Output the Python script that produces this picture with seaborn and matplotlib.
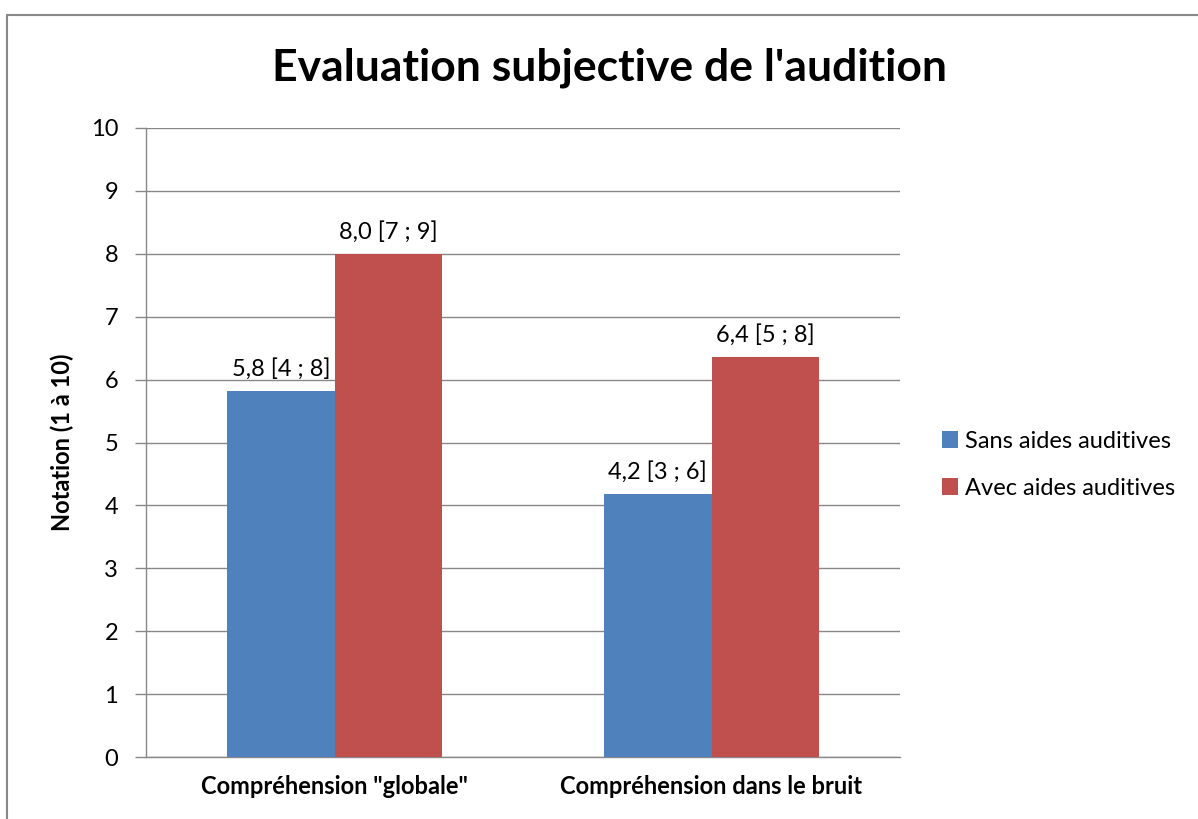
import matplotlib
matplotlib.use("Agg")
import matplotlib.pyplot as plt
import seaborn as sns
import pandas as pd
from matplotlib.lines import Line2D

categories = ['Compréhension "globale"', 'Compréhension dans le bruit']
series = ["Sans aides auditives", "Avec aides auditives"]
sans_vals = [5.82, 4.18]
avec_vals = [8.0, 6.36]
sans_labels = ["5,8 [4 ; 8]", "4,2 [3 ; 6]"]
avec_labels = ["8,0 [7 ; 9]", "6,4 [5 ; 8]"]
yticks = [0, 1, 2, 3, 4, 5, 6, 7, 8, 9, 10]

colors = ["#4F81BD", "#C0504D"]

sns.set_theme(style="white")
plt.rcParams["font.family"] = ["Lato", "DejaVu Sans"]
plt.rcParams["text.color"] = "black"

df = pd.DataFrame({
    "cat": categories * 2,
    "serie": [series[0]] * 2 + [series[1]] * 2,
    "val": sans_vals + avec_vals,
})

fig = plt.figure(figsize=(11.98, 8.19), dpi=100)
ax = fig.add_axes([146 / 1198, 1 - 757 / 819, (900 - 146) / 1198, (757 - 128) / 819])

sns.barplot(data=df, x="cat", y="val", hue="serie", palette=colors,
            width=0.57, saturation=1, ax=ax, edgecolor="none", zorder=3)

ax.set_ylim(0, 10)
ax.set_yticks(yticks)
ax.set_yticklabels([str(t) for t in yticks], fontsize=17, color="black")
ax.yaxis.grid(True, color="#888888", linewidth=1, zorder=0)
ax.set_axisbelow(True)
for s in ["top", "right"]:
    ax.spines[s].set_visible(False)
ax.spines["left"].set_color("#888888")
ax.spines["bottom"].set_color("#888888")
ax.spines["left"].set_linewidth(1)
ax.spines["bottom"].set_linewidth(1)
ax.tick_params(axis="y", which="both", left=True, length=8, color="#888888", width=1, pad=12)
ax.tick_params(axis="x", which="both", bottom=False, pad=7)
for lbl in ax.get_xticklabels():
    lbl.set_fontweight("bold")
    lbl.set_fontsize(17)
    lbl.set_color("black")
ax.set_xlabel("")
ax.set_ylabel("Notation (1 à 10)", fontsize=17, fontweight="bold", labelpad=12, color="black")

# data labels
all_labels = [sans_labels, avec_labels]
for container, labs in zip(ax.containers, all_labels):
    ax.bar_label(container, labels=labs, padding=8, fontsize=17, color="black")

fig.text(610 / 1198, 1 - 68 / 819, "Evaluation subjective de l'audition",
         fontsize=32, fontweight="bold", color="black", ha="center", va="center")

leg = ax.legend(loc="center left", bbox_to_anchor=(1.027, 0.465), frameon=False,
                fontsize=17, handlelength=0.7, handleheight=0.7, handletextpad=0.3,
                labelspacing=1.1)
for t in leg.get_texts():
    t.set_color("black")

# outer border (top and left)
fig.add_artist(Line2D([7 / 1198, 7 / 1198], [0, 1 - 15 / 819], transform=fig.transFigure,
                      color="#888888", linewidth=1.5))
fig.add_artist(Line2D([7 / 1198, 1], [1 - 15 / 819, 1 - 15 / 819], transform=fig.transFigure,
                      color="#888888", linewidth=1.5))

fig.savefig("out.png", dpi=100, facecolor="white")
